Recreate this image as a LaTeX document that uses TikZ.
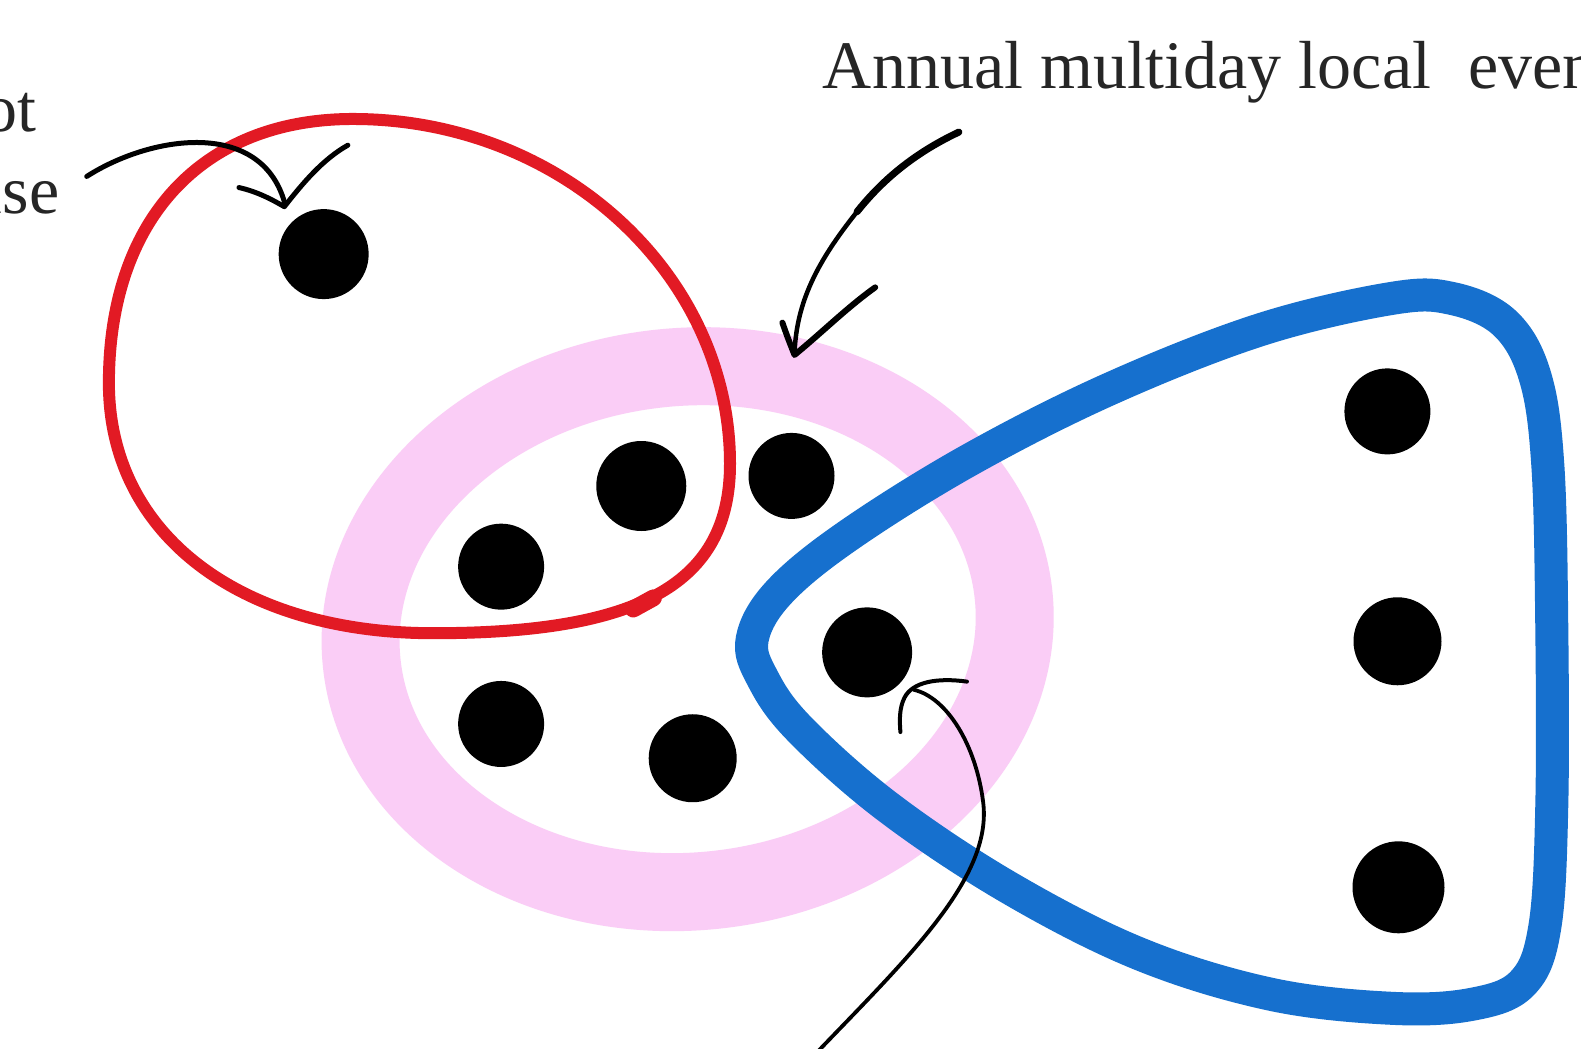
\documentclass[tikz,border=0pt]{standalone}
\usepackage{fontspec}
\setmainfont{Liberation Serif}
\definecolor{ringpink}{RGB}{250,205,246}
\definecolor{penred}{RGB}{226,26,36}
\definecolor{penblue}{RGB}{22,112,206}
\begin{document}
\begin{tikzpicture}[x=1.00829pt,y=-1.00829pt,
  dot/.style={circle,fill=black,inner sep=0pt,minimum size=#1},
  dot/.default=88pt,
  lbl/.style={font=\fontsize{68}{80}\selectfont,inner sep=0pt,text=black!85},
  pen/.style={draw=black,line cap=round,line join=round},
  ring/.style={draw=ringpink,line width=78pt},
  redline/.style={draw=penred,line width=12pt,line cap=round,line join=round},
  blueline/.style={draw=penblue,line width=33pt,line cap=round,line join=round}]
\useasboundingbox (0,0) rectangle (1568,1040);
\clip (0,0) rectangle (1568,1040);
\fill[white] (0,0) rectangle (1568,1040);

% pink ring
\begin{scope}[shift={(682,624)},rotate=6]
  \draw[ring] (0,0) ellipse [x radius=325, y radius=260];
\end{scope}

% red loop
\draw[redline] (724,460) .. controls (724,578) and (636,628) .. (430,628)
  .. controls (237,628) and (108,529) .. (108,380)
  .. controls (108,218) and (200,118) .. (350,118)
  .. controls (556,118) and (724,272) .. (724,460) -- cycle;
\draw[penred,line width=17pt,line cap=round] (628,604) -- (648,593);

% blue rounded triangle
\draw[blueline] plot[smooth cycle,tension=0.6] coordinates {
  (746,634) (772,588) (840,532) (960,457) (1100,386) (1250,327)
  (1380,296) (1440,296) (1492,320) (1522,372) (1535,460) (1539,620)
  (1539,800) (1532,920) (1510,975) (1460,996) (1380,1000) (1260,986)
  (1130,946) (1000,880) (880,800) (792,722) (756,672)};

% dots
\node[dot=90pt] (d1) at (321,252) {};
\node[dot=90pt] (d2) at (636,482) {};
\node[dot=86pt] (d3) at (785,472) {};
\node[dot=86pt] (d4) at (497,562) {};
\node[dot=86pt] (d5) at (497,718) {};
\node[dot=88pt] (d6) at (687,752) {};
\node[dot=90pt] (d7) at (860,647) {};
\node[dot=86pt] (d8) at (1376,408) {};
\node[dot=88pt] (d9) at (1386,636) {};
\node[dot=92pt] (d10) at (1387,880) {};

% texts
\node[lbl,anchor=base west] (t1) at (816,88) {Annual multiday local\hspace{0.55em}events};
\node[lbl,anchor=base east] (t2) at (36,130) {ot};
\node[lbl,anchor=base east] (t3) at (59,212) {ise};

% arrow 1 (top left)
\coordinate (a1s) at (86,175);
\coordinate (a1e) at (282,200);
\draw[pen,line width=5pt] (a1s) .. controls (150,134) and (258,118) .. (a1e);
\draw[pen,line width=5pt] (237,186) .. controls (255,190) and (270,198) .. (282,205)
  .. controls (300,182) and (320,158) .. (345,144);

% arrow 2 (top)
\coordinate (a2s) at (951,131);
\coordinate (a2e) at (788,350);
\draw[pen,line width=7pt] (a2s) .. controls (900,155) and (870,185) .. (850,210);
\draw[pen,line width=4.5pt] (850,210) .. controls (810,260) and (790,300) .. (a2e);
\draw[pen,line width=6pt] (776,320) .. controls (780,332) and (784,342) .. (788,352)
  .. controls (815,330) and (840,305) .. (868,285);

% arrow 3 (bottom)
\coordinate (a3s) at (810,1044);
\coordinate (a3e) at (906,684);
\draw[pen,line width=3.8pt] (a3s) .. controls (900,950) and (985,870) .. (975,795)
  .. controls (968,740) and (940,692) .. (a3e);
\draw[pen,line width=4pt] (959,676) .. controls (930,672) and (905,676) .. (897,692)
  .. controls (892,702) and (892,714) .. (893,726);
\end{tikzpicture}
\end{document}
